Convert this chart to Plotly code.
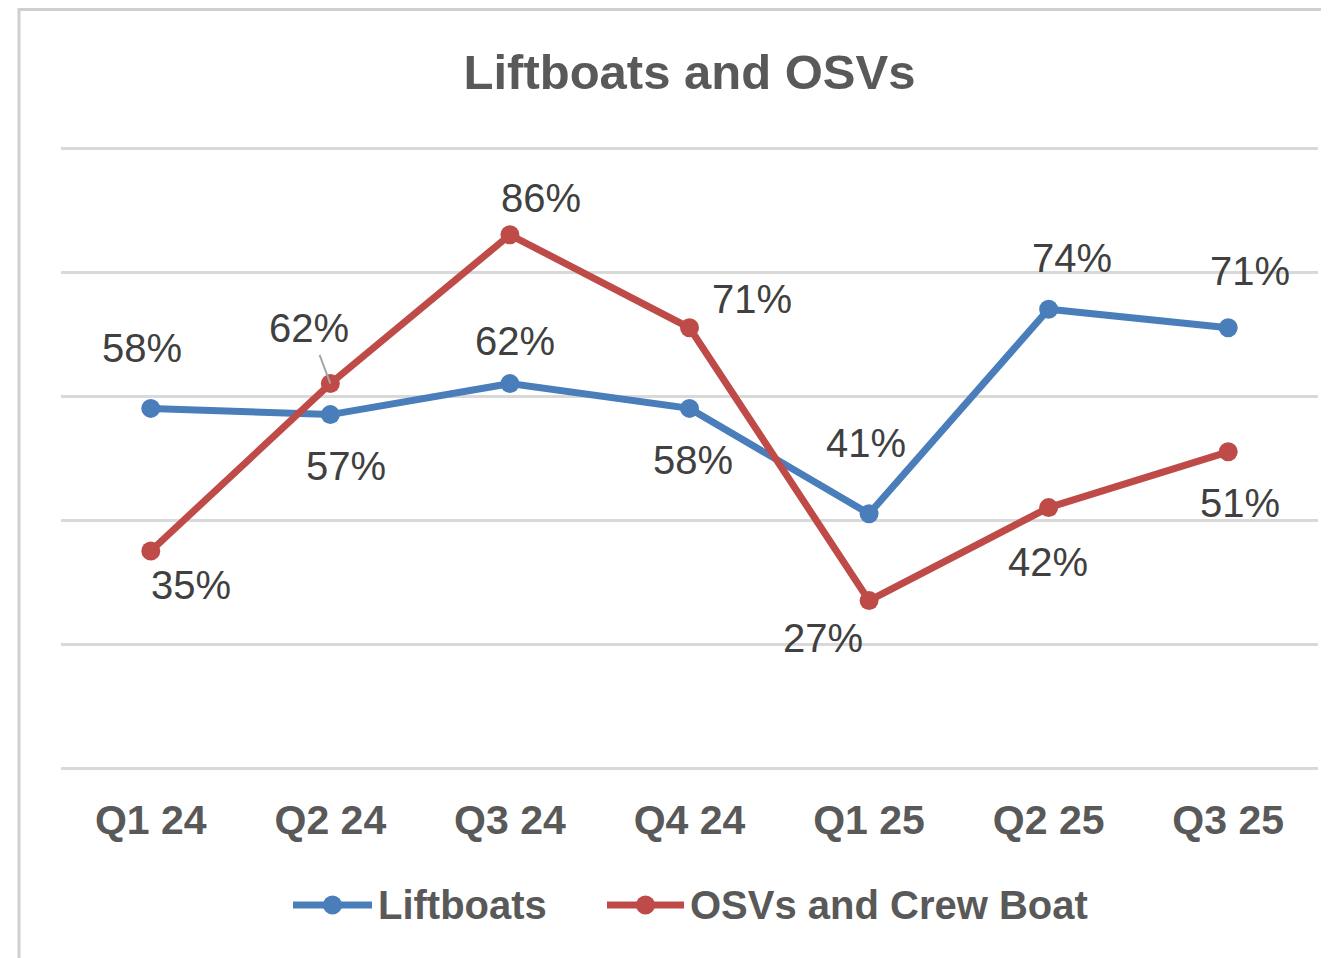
import plotly.graph_objects as go

# ---- data ----
quarters = ["Q1 24", "Q2 24", "Q3 24", "Q4 24", "Q1 25", "Q2 25", "Q3 25"]
liftboats = [58, 57, 62, 58, 41, 74, 71]
osvs = [35, 62, 86, 71, 27, 42, 51]
series_names = ["Liftboats", "OSVs and Crew Boat"]

# ---- styling ----
BLUE = "#4A7EBB"
RED = "#BE4B48"
GRID = "#D9D9D9"
LABEL = "#404040"
AXIS = "#595959"
FONT = "Liberation Sans, Arial, sans-serif"

# page has an 8px body margin; figure is sized to fit the window
W, H = 1321, 950
PLOT_L, PLOT_R = 53, 1310      # in figure pixels
PLOT_TOP, PLOT_BOT = 140, 760  # y of 100 and 0
PX_PER_UNIT = (PLOT_BOT - PLOT_TOP) / 100.0

# label offsets (pixels) for each point: (xshift, yshift)
lift_offsets = [(-9, 60), (16, -51), (5, 43), (3, -52), (-3, 71), (23, 51), (22, 57)]
osv_offsets = [(40, -34), (-21, 56), (31, 37), (62, 29), (-46, -37), (-1, -54), (12, -51)]

fig = go.Figure()
for name, vals, color in [(series_names[0], liftboats, BLUE), (series_names[1], osvs, RED)]:
    fig.add_trace(go.Scatter(
        x=quarters, y=vals, name=name, mode="lines+markers",
        line=dict(color=color, width=7),
        marker=dict(color=color, size=19),
        showlegend=False, hoverinfo="skip",
    ))

annotations = []
for vals, offs in [(liftboats, lift_offsets), (osvs, osv_offsets)]:
    for i, (q, v) in enumerate(zip(quarters, vals)):
        dx, dy = offs[i]
        if vals is osvs and i == 1:
            annotations.append(dict(
                x=q, y=v, xref="x", yref="y", text=f"{v}%",
                showarrow=True, ax=dx, ay=-dy, arrowhead=0, arrowwidth=2,
                arrowcolor="#A6A6A6", standoff=0, startstandoff=4,
                font=dict(family=FONT, size=40, color=LABEL),
            ))
        else:
            annotations.append(dict(
                x=q, y=v, xref="x", yref="y", text=f"{v}%",
                showarrow=False, xshift=dx, yshift=dy,
                font=dict(family=FONT, size=40, color=LABEL),
            ))

extra = 5  # extra pixels on top so the 100 gridline is drawn
pw = PLOT_R - PLOT_L
ph = PLOT_BOT - PLOT_TOP + extra


def px_x(px):
    return (px - 8 - PLOT_L) / pw


def px_y(py):
    return (PLOT_BOT - (py - 8)) / ph


# custom legend (positions given in window pixels)
shapes = []
legend_items = [
    (series_names[0], BLUE, 293, 372, 376),
    (series_names[1], RED, 607, 684, 688),
]
ly = px_y(905)
for name, color, x0, x1, tx in legend_items:
    shapes.append(dict(type="line", xref="paper", yref="paper", x0=px_x(x0), x1=px_x(x1), y0=ly, y1=ly,
                       line=dict(color=color, width=7)))
    xm = px_x((x0 + x1) / 2)
    shapes.append(dict(type="circle", xref="paper", yref="paper", xsizemode="pixel", ysizemode="pixel",
                       xanchor=xm, yanchor=ly, x0=-9.5, x1=9.5, y0=-9.5, y1=9.5,
                       fillcolor=color, line=dict(width=0)))
    annotations.append(dict(x=px_x(tx), y=ly, xref="paper", yref="paper", text=name, showarrow=False,
                            xanchor="left", yanchor="middle",
                            font=dict(family=FONT, size=40, color=AXIS, weight="bold")))

# border
shapes.append(dict(type="rect", xref="paper", yref="paper", x0=px_x(19), x1=1.2, y0=-0.6, y1=px_y(9.5),
                   line=dict(color="#CFCFCF", width=3), layer="below"))

fig.update_layout(
    width=W, height=H,
    margin=dict(l=PLOT_L, r=W - PLOT_R, t=PLOT_TOP - extra, b=H - PLOT_BOT, pad=0),
    paper_bgcolor="white", plot_bgcolor="white",
    title=dict(text="Liftboats and OSVs", x=0.5, xref="paper", xanchor="center",
               y=1 - (72 - 8) / H, yref="container", yanchor="middle",
               font=dict(family=FONT, size=49, color=AXIS, weight="bold")),
    xaxis=dict(range=[-0.5, 6.5], showgrid=False, showline=False, zeroline=False,
               ticks="", tickfont=dict(family=FONT, size=41, color=AXIS, weight="bold"),
               ticklabelstandoff=24),
    yaxis=dict(range=[0, 100 + extra / PX_PER_UNIT], tickvals=[0, 20, 40, 60, 80, 100],
               showticklabels=False, showgrid=True,
               gridcolor=GRID, gridwidth=3, zeroline=True, zerolinecolor=GRID, zerolinewidth=3,
               showline=False),
    annotations=annotations,
    shapes=shapes,
    showlegend=False,
)

fig.write_html("out.html")
